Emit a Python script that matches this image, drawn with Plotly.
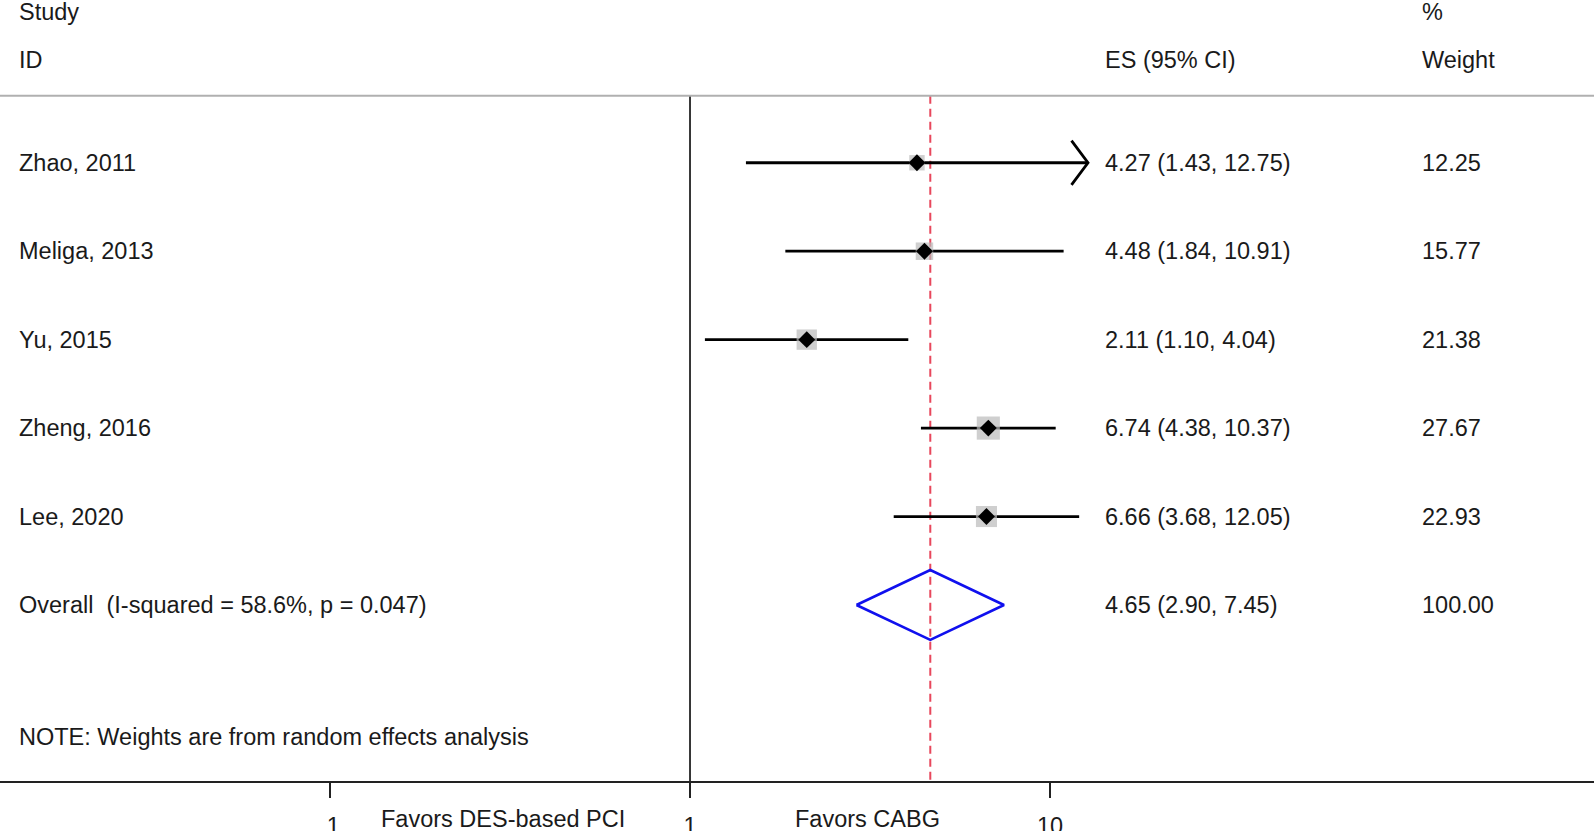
import math
import plotly.graph_objects as go

studies = ["Zhao, 2011", "Meliga, 2013", "Yu, 2015", "Zheng, 2016", "Lee, 2020"]
es = [4.27, 4.48, 2.11, 6.74, 6.66]
ci_lo = [1.43, 1.84, 1.10, 4.38, 3.68]
ci_hi = [12.75, 10.91, 4.04, 10.37, 12.05]
weights = [12.25, 15.77, 21.38, 27.67, 22.93]
es_text = ["4.27 (1.43, 12.75)", "4.48 (1.84, 10.91)", "2.11 (1.10, 4.04)",
           "6.74 (4.38, 10.37)", "6.66 (3.68, 12.05)"]
weight_text = ["12.25", "15.77", "21.38", "27.67", "22.93"]

overall_label = "Overall  (I-squared = 58.6%, p = 0.047)"
overall_es, overall_lo, overall_hi = 4.65, 2.90, 7.45
overall_es_text = "4.65 (2.90, 7.45)"
overall_weight_text = "100.00"
note_text = "NOTE: Weights are from random effects analysis"

tick_vals = [0.1, 1, 10]
tick_text = [".1", "1", "10"]
favors_left, favors_right = "Favors DES-based PCI", "Favors CABG"

W, H = 1594, 831
FONT = "Liberation Sans, Arial, Helvetica, sans-serif"
FS = 23.5
TXT = "#1a1a1a"

rows = list(range(len(studies)))
overall_row = len(studies)
y_top, y_bot = -0.758, 6.99

fig = go.Figure()

fig.add_trace(go.Scatter(x=[1, 1], y=[y_top, y_bot], mode="lines",
                         line=dict(color="#222222", width=1.8), hoverinfo="skip"))
fig.add_trace(go.Scatter(x=[overall_es, overall_es], y=[y_top, y_bot], mode="lines",
                         line=dict(color="#e8475c", width=2, dash="8px,5px"), hoverinfo="skip"))

for i in rows:
    fig.add_trace(go.Scatter(x=[ci_lo[i], ci_hi[i]], y=[i, i], mode="lines",
                             line=dict(color="black", width=2.8), hoverinfo="skip"))

arrow_limit = 12.5
for i in rows:
    if ci_hi[i] > arrow_limit:
        back = ci_hi[i] / 10 ** (16.5 / 360)
        fig.add_trace(go.Scatter(x=[back, ci_hi[i], back], y=[i - 0.25, i, i + 0.25],
                                 mode="lines", line=dict(color="black", width=2.8),
                                 hoverinfo="skip"))

fig.add_trace(go.Scatter(x=es, y=rows, mode="markers",
                         marker=dict(symbol="square", color="#bbbbbb",
                                     size=[4.4 * math.sqrt(w) for w in weights],
                                     line=dict(width=0)), hoverinfo="skip"))
fig.add_trace(go.Scatter(x=es, y=rows, mode="markers",
                         marker=dict(symbol="diamond", color="black", size=13,
                                     line=dict(width=0)), hoverinfo="skip"))

h = 0.395
fig.add_trace(go.Scatter(x=[overall_lo, overall_es, overall_hi, overall_es, overall_lo],
                         y=[overall_row, overall_row - h, overall_row, overall_row + h, overall_row],
                         mode="lines", line=dict(color="#1010ee", width=2.6), hoverinfo="skip"))

ann = []
def add_text(x_px, y, text):
    ann.append(dict(x=x_px / W, xref="paper", y=y, yref="y", text=text, showarrow=False,
                    xanchor="left", yanchor="middle",
                    font=dict(family=FONT, size=FS, color=TXT)))

x_label, x_es, x_w = 17, 1103, 1420
add_text(x_label, -1.70, "Study")
add_text(x_label, -1.16, "ID")
add_text(x_es, -1.16, "ES (95% CI)")
add_text(x_w, -1.70, "%")
add_text(x_w, -1.16, "Weight")
for i in rows:
    add_text(x_label, i, studies[i])
    add_text(x_es, i, es_text[i])
    add_text(x_w, i, weight_text[i])
add_text(x_label, overall_row, overall_label)
add_text(x_es, overall_row, overall_es_text)
add_text(x_w, overall_row, overall_weight_text)
add_text(x_label, 6.49, note_text)

plot_h = H - 50
for txt, xc in [(favors_left, 503), (favors_right, 867)]:
    ann.append(dict(x=xc / W, xref="paper", y=-(819 - plot_h) / plot_h, yref="paper",
                    text=txt, showarrow=False, xanchor="center", yanchor="middle",
                    font=dict(family=FONT, size=FS, color=TXT)))

fig.update_layout(
    width=W, height=H, margin=dict(l=0, r=0, t=0, b=50, autoexpand=False),
    paper_bgcolor="white", plot_bgcolor="white", showlegend=False,
    annotations=ann,
    shapes=[dict(type="line", xref="paper", yref="y", x0=0, x1=1, y0=y_top, y1=y_top,
                 line=dict(color="#b0b0b0", width=2))],
    xaxis=dict(type="log", range=[-1.9167, 2.5111], tickvals=tick_vals, ticktext=tick_text,
               ticks="outside", ticklen=15, tickwidth=2, tickcolor="#222",
               ticklabelstandoff=8, automargin=False,
               showline=True, linecolor="#222", linewidth=2, showgrid=False, zeroline=False,
               tickfont=dict(family=FONT, size=FS, color=TXT), fixedrange=True),
    yaxis=dict(range=[6.99, -1.84], visible=False, showgrid=False, zeroline=False,
               fixedrange=True, automargin=False),
)

fig.write_html("out.html", config={"displayModeBar": False},
               post_script="document.body.style.margin='0';document.body.style.overflow='hidden';")
